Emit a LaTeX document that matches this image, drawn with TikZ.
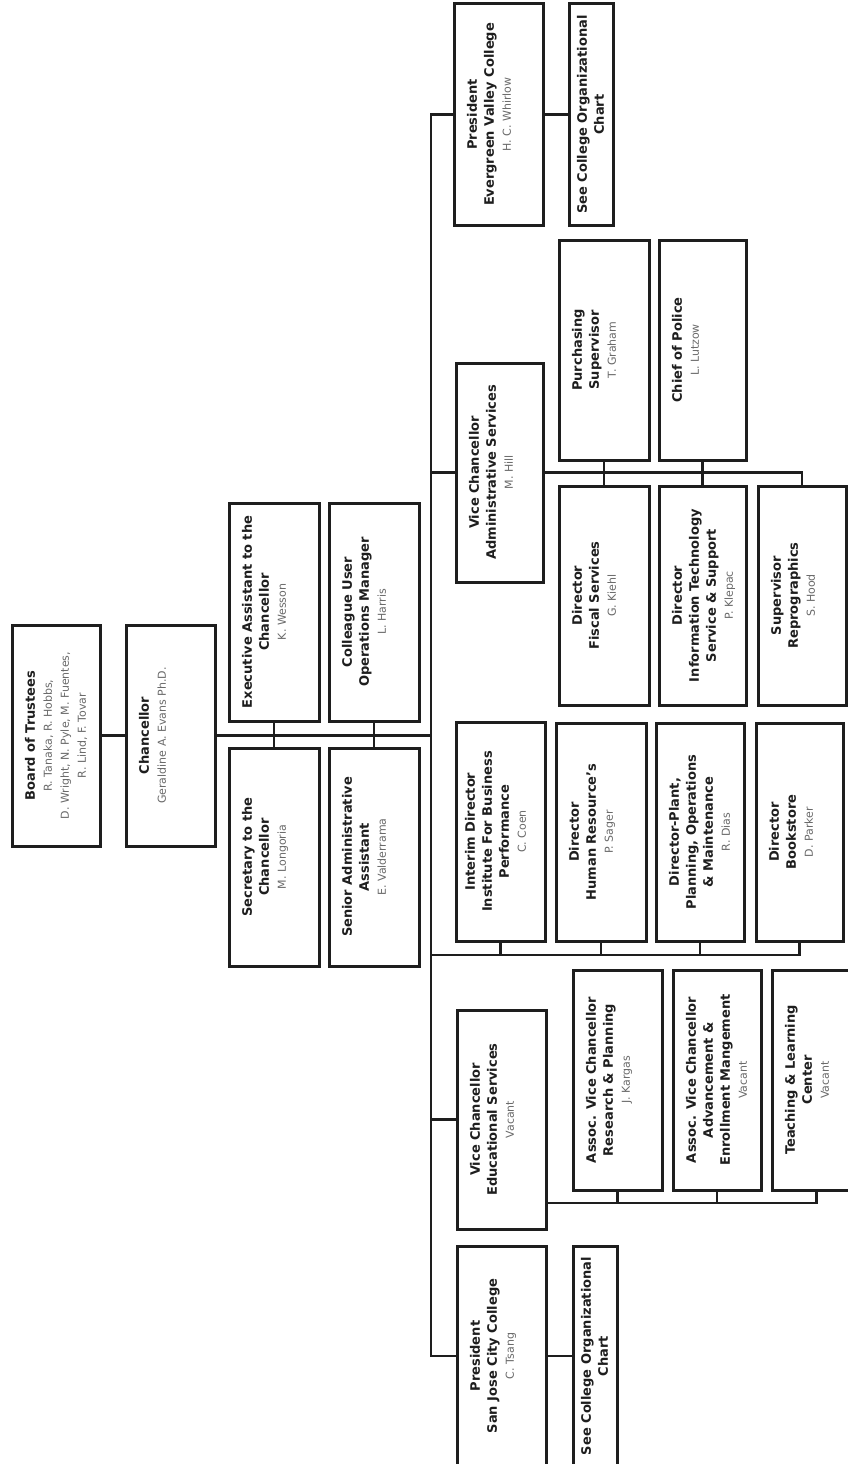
\documentclass[tikz,border=0pt]{standalone}
\usepackage{fontspec}
\setmainfont{DejaVu Sans}
\usetikzlibrary{calc}
\definecolor{ink}{HTML}{1E1E1E}
\definecolor{namegray}{HTML}{6A6A6A}
\newcommand{\ttl}[1]{{\fontsize{13}{17}\selectfont\bfseries\color{ink}#1}}
\newcommand{\nm}[1]{{\fontsize{11}{17}\selectfont\color{namegray}#1}}
\newcommand{\boxcontent}[4][13pt]{\parbox[c][#3][t]{#2}{\fontsize{13}{17}\selectfont\centering\vspace*{#1}#4\par}}
\tikzset{
  orgbox/.style={draw=ink, line width=3pt, fill=white, rotate=90, inner sep=0pt, outer sep=0pt},
  link/.style={draw=ink, line width=2.7pt, line join=miter},
}
\begin{document}
\begin{tikzpicture}[x=1pt,y=-1pt]
\path[use as bounding box, fill=white] (0,0) rectangle (848,1464);
\clip (0,0) rectangle (848,1464);

% top of chart
\node[orgbox] (board) at (56,735.5) {\boxcontent{221pt}{88pt}{\ttl{Board of Trustees}\\\nm{R. Tanaka, R. Hobbs,}\\\nm{D. Wright, N. Pyle, M. Fuentes,}\\\nm{R. Lind, F. Tovar}}};
\node[orgbox] (chanc) at (170.5,735.5) {\boxcontent{221pt}{89pt}{\ttl{Chancellor}\\\nm{Geraldine A. Evans Ph.D.}}};

% chancellor staff
\node[orgbox] (execasst) at (274,612) {\boxcontent{218pt}{90pt}{\ttl{Executive Assistant to the}\\\ttl{Chancellor}\\\nm{K. Wesson}}};
\node[orgbox] (colleague) at (374,612) {\boxcontent{218pt}{90pt}{\ttl{Colleague User}\\\ttl{Operations Manager}\\\nm{L. Harris}}};
\node[orgbox] (secretary) at (274,857) {\boxcontent{218pt}{90pt}{\ttl{Secretary to the}\\\ttl{Chancellor}\\\nm{M. Longoria}}};
\node[orgbox] (senior) at (374,857) {\boxcontent{218pt}{90pt}{\ttl{Senior Administrative}\\\ttl{Assistant}\\\nm{E. Valderrama}}};

% Evergreen
\node[orgbox] (evpres) at (498.5,114.5) {\boxcontent{221pt}{89pt}{\ttl{President}\\\ttl{Evergreen Valley College}\\\nm{H. C. Whirlow}}};
\node[orgbox] (evsee) at (591,114.5) {\boxcontent[8pt]{221pt}{44pt}{\ttl{See College Organizational}\\\ttl{Chart}}};

% Administrative services
\node[orgbox] (vcadmin) at (499.5,472.5) {\boxcontent{219pt}{87pt}{\ttl{Vice Chancellor}\\\ttl{Administrative Services}\\\nm{M. Hill}}};
\node[orgbox] (purch) at (604,350) {\boxcontent{220pt}{90pt}{\ttl{Purchasing}\\\ttl{Supervisor}\\\nm{T. Graham}}};
\node[orgbox] (police) at (702.5,350) {\boxcontent{220pt}{87pt}{\ttl{Chief of Police}\\\nm{L. Lutzow}}};
\node[orgbox] (fiscal) at (604,595.5) {\boxcontent{219pt}{90pt}{\ttl{Director}\\\ttl{Fiscal Services}\\\nm{G. Kiehl}}};
\node[orgbox] (itss) at (702.5,595.5) {\boxcontent{219pt}{87pt}{\ttl{Director}\\\ttl{Information Technology}\\\ttl{Service \& Support}\\\nm{P. Klepac}}};
\node[orgbox] (repro) at (802,595.5) {\boxcontent{219pt}{88pt}{\ttl{Supervisor}\\\ttl{Reprographics}\\\nm{S. Hood}}};

% directors
\node[orgbox] (interim) at (500.5,831.5) {\boxcontent[9pt]{219pt}{89pt}{\ttl{Interim Director}\\\ttl{Institute For Business}\\\ttl{Performance}\\\nm{C. Coen}}};
\node[orgbox] (hr) at (601,832) {\boxcontent{218pt}{90pt}{\ttl{Director}\\\ttl{Human Resource's}\\\nm{P. Sager}}};
\node[orgbox] (plant) at (700,832) {\boxcontent{218pt}{88pt}{\ttl{Director-Plant,}\\\ttl{Planning, Operations}\\\ttl{\& Maintenance}\\\nm{R. Dias}}};
\node[orgbox] (bookstore) at (799.5,832) {\boxcontent{218pt}{87pt}{\ttl{Director}\\\ttl{Bookstore}\\\nm{D. Parker}}};

% Educational services
\node[orgbox] (vcedu) at (501.5,1119.5) {\boxcontent{219pt}{89pt}{\ttl{Vice Chancellor}\\\ttl{Educational Services}\\\nm{Vacant}}};
\node[orgbox] (assocrp) at (617.5,1080) {\boxcontent{220pt}{89pt}{\ttl{Assoc. Vice Chancellor}\\\ttl{Research \& Planning}\\\nm{J. Kargas}}};
\node[orgbox] (assocadv) at (717,1080) {\boxcontent{220pt}{88pt}{\ttl{Assoc. Vice Chancellor}\\\ttl{Advancement \&}\\\ttl{Enrollment Mangement}\\\nm{Vacant}}};
\node[orgbox] (teach) at (816.5,1080) {\boxcontent{220pt}{89pt}{\ttl{Teaching \& Learning}\\\ttl{Center}\\\nm{Vacant}}};

% San Jose
\node[orgbox] (sjpres) at (501.5,1356) {\boxcontent{220pt}{89pt}{\ttl{President}\\\ttl{San Jose City College}\\\nm{C. Tsang}}};
\node[orgbox] (sjsee) at (595,1356) {\boxcontent[8pt]{220pt}{44pt}{\ttl{See College Organizational}\\\ttl{Chart}}};

% connectors
\coordinate (sptop) at (431,114.5);
\coordinate (spbot) at (431,1356);
\coordinate (midbus) at (431,955);
\coordinate (edujoin) at (546,1203);

\draw[link] (board.south) -- (chanc.north);
\draw[link] (chanc.south) -- (chanc.south -| sptop);
\draw[link] (execasst.west) -- (secretary.east);
\draw[link] (colleague.west) -- (senior.east);
\draw[link] (evpres.north) -- (sptop) -- (spbot) -- (sjpres.north);
\draw[link] (evpres.south) -- (evsee.north);
\draw[link] (sjpres.south) -- (sjsee.north);

\draw[link] (vcadmin.north) -- (vcadmin.north -| sptop);
\draw[link] (vcadmin.south) -| (repro.east);
\draw[link] (purch.west) -- (fiscal.east);
\draw[link] (police.west) -- (itss.east);

\draw[link] (midbus) -| (bookstore.west);
\draw[link] (interim.west) -- (interim.west |- midbus);
\draw[link] (hr.west) -- (hr.west |- midbus);
\draw[link] (plant.west) -- (plant.west |- midbus);

\draw[link] (vcedu.north) -- (vcedu.north -| sptop);
\draw[link] (edujoin) -| (teach.west);
\draw[link] (assocrp.west) -- (assocrp.west |- edujoin);
\draw[link] (assocadv.west) -- (assocadv.west |- edujoin);
\end{tikzpicture}
\end{document}
